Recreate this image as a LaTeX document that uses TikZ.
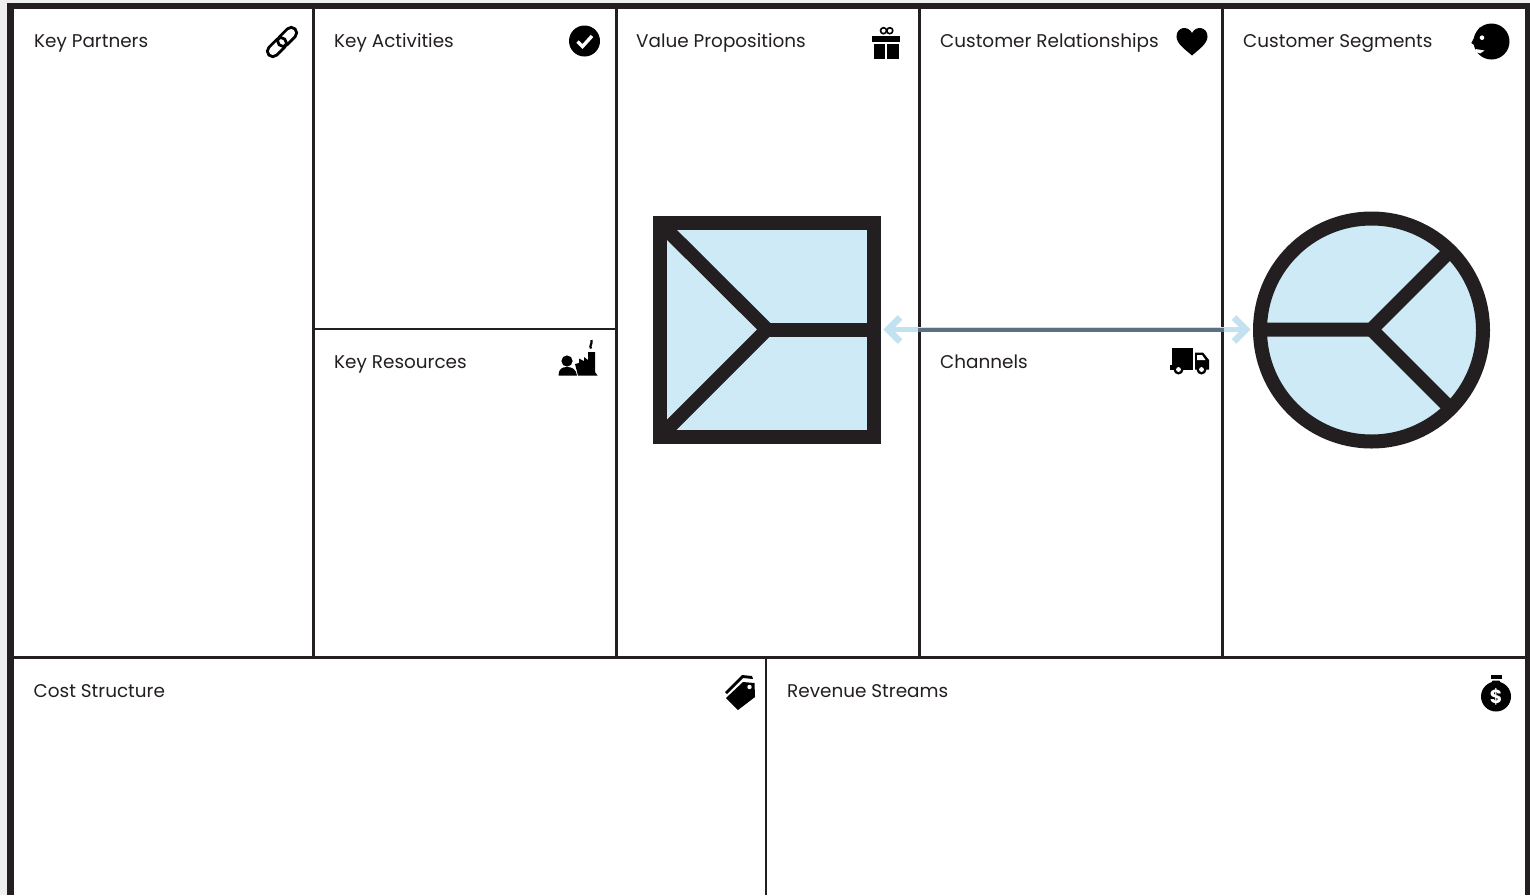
\documentclass[tikz,border=0pt]{standalone}
\usepackage{fontspec}
\setmainfont{Poppins}
\definecolor{ink}{HTML}{231F20}
\definecolor{paleblue}{HTML}{CEEAF6}
\definecolor{arrowblue}{HTML}{C3E2F1}
\definecolor{slate}{HTML}{5B7080}
\definecolor{pagegrey}{HTML}{EFEFEF}
\tikzset{
  x=1pt,y=-1pt,
  label/.style={anchor=base west,inner sep=0pt,text=ink,font=\fontsize{18.4}{22}\selectfont},
  grid/.style={draw=ink,line width=2.6pt},
  big/.style={draw=ink,line width=14pt,fill=paleblue},
  bigline/.style={draw=ink,line width=14pt},
  head/.style={draw=arrowblue,line width=6.5pt},
}
\begin{document}
\begin{tikzpicture}
\useasboundingbox (0,0) rectangle (1530,895);
\fill[pagegrey] (0,0) rectangle (1530,895);
\fill[ink] (7,3) rectangle (1530,895);
\fill[white] (13.5,9) rectangle (1525,895);
% grid
\draw[grid] (313.5,9) -- (313.5,657);
\draw[grid] (616.5,9) -- (616.5,657);
\draw[grid] (919.5,9) -- (919.5,657);
\draw[grid] (1222.5,9) -- (1222.5,657);
\draw[grid] (13,657.5) -- (1525,657.5);
\draw[grid] (313.5,329) -- (616.5,329);
\draw[grid] (766,657.5) -- (766,895);
% labels
\node[label] (kp) at (34,47) {Key Partners};
\node[label] (ka) at (334,47) {Key Activities};
\node[label] (vp) at (636,47) {Value Propositions};
\node[label] (cr) at (940,47) {Customer Relationships};
\node[label] (cs) at (1243,47) {Customer Segments};
\node[label] (kr) at (334,368) {Key Resources};
\node[label] (ch) at (940,368) {Channels};
\node[label] (co) at (33.5,697) {Cost Structure};
\node[label] (rs) at (787,697) {Revenue Streams};
% big shapes
\draw[big] (659.5,222.5) rectangle (874,437);
\draw[bigline] (659.5,222.5) -- (767,329.5) -- (659.5,437);
\draw[bigline] (767,329.5) -- (874,329.5);
\draw[big] (1371.5,330) circle (111.5);
\draw[bigline] (1260,329.5) -- (1371.5,329.5) -- (1450,251);
\draw[bigline] (1371.5,329.5) -- (1450,408);
\coordinate (vpedge) at (881,329.5);
\coordinate (csedge) at (1253,329.5);
% arrow
\draw[arrowblue,line width=5pt] ([xshift=7]vpedge) -- ([xshift=-7]csedge);
\draw[head] (900,317.5) -- (888,329.5) -- (900,341.5);
\draw[head] (1234,317.5) -- (1246,329.5) -- (1234,341.5);
\draw[slate,line width=4pt] (918,329.5) -- (1224,329.5);
% link icon
\begin{scope}[shift={(282,42)},rotate=45,line width=2.8pt,draw=black]
\draw[rounded corners=5.5pt] (-18.5,-5.5) rectangle (4,5.5);
\draw[rounded corners=5.5pt] (-4,-5.5) rectangle (18.5,5.5);
\end{scope}
% check icon
\fill[black] (584.5,41) circle (15.5);
\draw[white,line width=3.4pt] (577.5,41.5) -- (582.5,46.5) -- (592,36);
% gift icon
\fill[black] (872,36) rectangle (900,41.5);
\fill[black] (873.5,43.5) rectangle (884.8,59);
\fill[black] (887.2,43.5) rectangle (898.5,59);
\draw[black,line width=1.6pt] (883.5,30.7) circle (3);
\draw[black,line width=1.6pt] (889.8,30.7) circle (3);
% heart icon
\fill[black] (1192,55.5) .. controls (1186,50) and (1176.5,44) .. (1176.5,36.5)
  .. controls (1176.5,27) and (1188,25) .. (1192,33)
  .. controls (1196,25) and (1207.5,27) .. (1207.5,36.5)
  .. controls (1207.5,44) and (1198,50) .. (1192,55.5) -- cycle;
% face icon
\fill[black] (1491.5,41.5) circle (18);
\fill[black] (1480,27) -- (1471.3,43) -- (1477,47) -- (1477,52) -- (1484,57) -- (1495,50) -- cycle;
\fill[white] (1482,37.7) circle (2.3);
\fill[white] (1475.5,49) -- (1484.5,50.5) -- (1480,53.5) -- (1475.5,52) -- cycle;
% factory icon
\fill[black] (578,375.5) -- (597.5,375.5) -- (595,372) -- (595,352) -- (588,352) -- (588,360)
  -- (584,357) -- (584,361) -- (579,358.5) -- (579,363) -- (575,364) -- cycle;
\draw[black,line width=2.2pt] (591,348.5) .. controls (589,345.5) and (592.5,344) .. (591.5,340);
\fill[black] (567,361) circle (5.6);
\fill[black] (558.5,375.5) .. controls (558.5,369) and (562,367) .. (567,367)
  .. controls (572,367) and (576,369) .. (577,375.5) -- cycle;
% truck icon
\fill[black] (1171.5,348) rectangle (1193,367);
\fill[black] (1169.5,365) rectangle (1193,369.8);
\fill[black] (1195,352.5) -- (1203,352.5) -- (1209,360) -- (1209,369.5) -- (1195,369.5) -- cycle;
\fill[white] (1197,355) -- (1202,355) -- (1205.5,360) -- (1197,360) -- cycle;
\fill[black] (1178.5,369.5) circle (5);
\fill[white] (1178.5,369.5) circle (2.4);
\fill[black] (1201.5,369.5) circle (5);
\fill[white] (1201.5,369.5) circle (2.4);
% tag icon
\fill[black] (726,698) -- (743,682) -- (754.5,683) -- (755,697) -- (738,710) -- cycle;
\fill[black] (725,692) -- (742,675) -- (752,676) -- (753,679) -- (743,678) -- (727,694) -- cycle;
\fill[white] (749.5,687) circle (2.2);
% bag icon
\fill[black] (1496,696.5) circle (15);
\fill[black] (1490.5,685) -- (1501.5,685) -- (1499.5,680.5) -- (1492.5,680.5) -- cycle;
\fill[black] (1490.5,675) rectangle (1501.5,678.5);
\node[inner sep=0pt,text=white,font=\fontsize{19}{19}\bfseries\selectfont] (dollar) at (1496,697) {\$};
\end{tikzpicture}
\end{document}
